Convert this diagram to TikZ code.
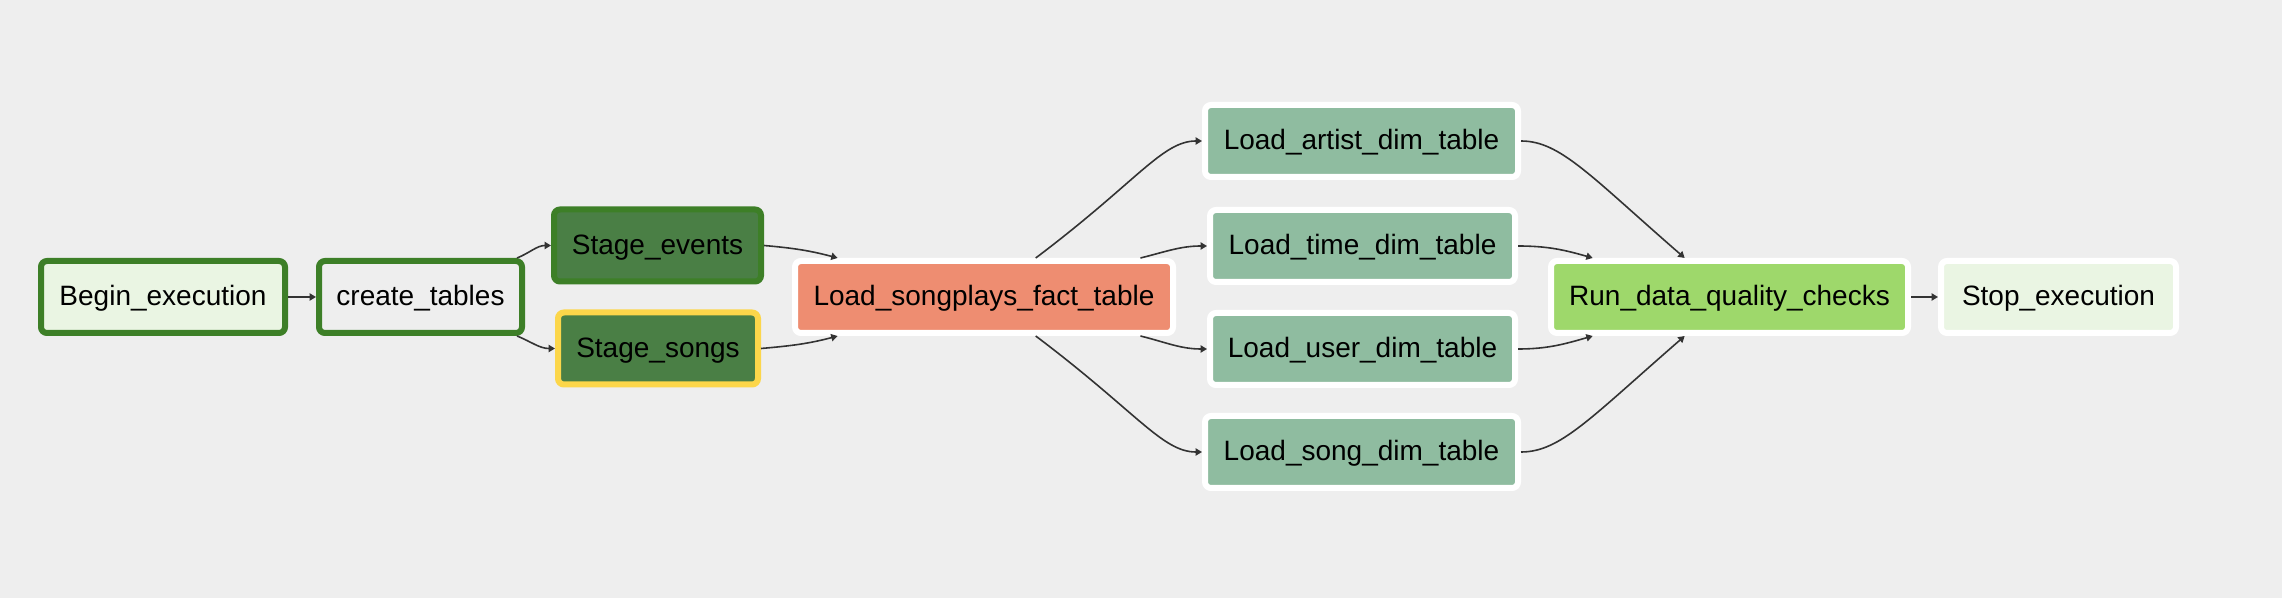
\documentclass[tikz,border=0pt]{standalone}
\usepackage{fontspec}
\setmainfont{Liberation Sans}
\usetikzlibrary{arrows.meta}
\definecolor{bgc}{HTML}{EEEEEE}
\definecolor{okgreen}{HTML}{3D7F27}
\definecolor{dummyfill}{HTML}{EAF5E3}
\definecolor{stagefill}{HTML}{4A7F45}
\definecolor{queuedyellow}{HTML}{FCD64A}
\definecolor{factfill}{HTML}{EE8D71}
\definecolor{dimfill}{HTML}{8FBCA0}
\definecolor{dqfill}{HTML}{9ED86B}
\definecolor{edgec}{HTML}{333333}
\begin{document}
\begin{tikzpicture}[x=0.5pt,y=-0.5pt,
  task/.style={rectangle, rounded corners=3pt, line width=3pt, draw=white,
    minimum height=36pt, inner sep=0pt, text height=10pt, text depth=1pt,
    font=\fontsize{14}{16}\selectfont, text=black},
  donebox/.style={task, draw=okgreen},
  edge/.style={draw=edgec, line width=0.8pt, -{Triangle[length=3.2pt,width=3.6pt]}}]
\useasboundingbox[fill=bgc] (0,0) rectangle (2282,598);
% nodes
\node[donebox, fill=dummyfill, minimum width=122pt] (begin) at (163,297) {Begin\_execution};
\node[donebox, fill=bgc, minimum width=101.5pt] (create) at (420.5,297) {create\_tables};
\node[donebox, fill=stagefill, minimum width=103.5pt] (se) at (657.5,245.5) {Stage\_events};
\node[task, draw=queuedyellow, fill=stagefill, minimum width=100pt] (ss) at (658,348.5) {Stage\_songs};
\node[task, fill=factfill, minimum width=189pt] (fact) at (984,297) {Load\_songplays\_fact\_table};
\node[task, fill=dimfill, minimum width=156.5pt] (artist) at (1361.5,141) {Load\_artist\_dim\_table};
\node[task, fill=dimfill, minimum width=152.5pt] (time) at (1362.5,246) {Load\_time\_dim\_table};
\node[task, fill=dimfill, minimum width=152.5pt] (user) at (1362.5,349) {Load\_user\_dim\_table};
\node[task, fill=dimfill, minimum width=156.5pt] (song) at (1361.5,452) {Load\_song\_dim\_table};
\node[task, fill=dqfill, minimum width=178.5pt] (run) at (1729.5,297) {Run\_data\_quality\_checks};
\node[task, fill=dummyfill, minimum width=117.5pt] (stop) at (2058.5,297) {Stop\_execution};
% edges
\draw[edge] (begin) -- (create);
\draw[edge] (create) to[out=22,in=180] (se.west);
\draw[edge] (create) to[out=-22,in=180] (ss.west);
\draw[edge] (se.east) to[out=-5,in=165.5] (fact);
\draw[edge] (ss.east) to[out=5,in=-165.5] (fact);
\draw[edge] (fact) to[out=37,in=180,out looseness=1.6,in looseness=0.5] (artist.west);
\draw[edge] (fact) to[out=14,in=180] (time.west);
\draw[edge] (fact) to[out=-14,in=180] (user.west);
\draw[edge] (fact) to[out=-37,in=180,out looseness=1.6,in looseness=0.5] (song.west);
\draw[edge] (artist.east) to[out=0,in=139,out looseness=0.5,in looseness=1.6] (run);
\draw[edge] (time.east) to[out=0,in=164.5] (run);
\draw[edge] (user.east) to[out=0,in=-164.5] (run);
\draw[edge] (song.east) to[out=0,in=-139,out looseness=0.5,in looseness=1.6] (run);
\draw[edge] (run) -- (stop);
\end{tikzpicture}
\end{document}
